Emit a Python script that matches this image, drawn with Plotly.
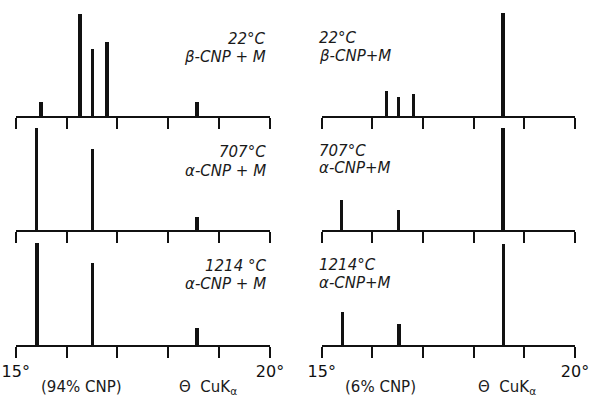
import plotly.graph_objects as go

# Peak positions (theta, degrees) and relative heights
lt_pos = [15.49, 16.26, 16.51, 16.79, 18.56]
lt_int = [14, 102, 67, 74, 14]
lm_pos = [15.40, 16.51, 18.56]
lm_int = [102, 81, 13]
lb_pos = [15.41, 16.51, 18.56]
lb_int = [102, 82, 17]
rt_pos = [16.27, 16.51, 16.81, 18.57]
rt_int = [25, 19, 22, 103]
rm_pos = [15.39, 16.51, 18.57]
rm_int = [30, 20, 102]
rb_pos = [15.40, 16.52, 18.58]
rb_int = [33, 21, 101]

label_vals = [15, 20]
label_text = ["15°", "20°"]

W, H = 592, 399
def px(x):
    return x / W
def py(y):
    return 1 - y / H

panels = [
    (lt_pos, lt_int, (15.7, 270), (6, 116), False),
    (rt_pos, rt_int, (321.7, 575), (6, 116), False),
    (lm_pos, lm_int, (15.7, 270), (120, 230), False),
    (rm_pos, rm_int, (321.7, 575), (120, 230), False),
    (lb_pos, lb_int, (15.7, 270), (235, 345), True),
    (rb_pos, rb_int, (321.7, 575), (235, 345), True),
]

fig = go.Figure()
layout = {}
for i, (pos, inten, (x0, x1), (y0, y1), labels) in enumerate(panels):
    n = i + 1
    xa = "x" if n == 1 else f"x{n}"
    ya = "y" if n == 1 else f"y{n}"
    fig.add_trace(go.Bar(x=pos, y=inten, width=0.065, marker_color="#111111",
                         marker_line_width=0, xaxis=xa, yaxis=ya, showlegend=False))
    xkey = "xaxis" if n == 1 else f"xaxis{n}"
    ykey = "yaxis" if n == 1 else f"yaxis{n}"
    layout[xkey] = dict(domain=[px(x0), px(x1)], range=[15, 20], anchor=ya,
                        automargin=False,
                        showline=True, linecolor="#111111", linewidth=1.8,
                        ticks="outside", ticklen=11, tickwidth=1.6, tickcolor="#111111",
                        tickmode="array", tickvals=label_vals, ticktext=label_text,
                        showticklabels=labels,
                        minor=dict(tick0=15, dtick=1, ticks="outside", ticklen=11,
                                   tickwidth=1.6, tickcolor="#111111", showgrid=False),
                        showgrid=False, zeroline=False,
                        tickfont=dict(family="DejaVu Sans", size=16, color="#111111"),
                        fixedrange=True)
    layout[ykey] = dict(domain=[py(y1), py(y0)], range=[0, 110], anchor=xa,
                        automargin=False,
                        visible=False, showgrid=False, zeroline=False, fixedrange=True)

fig.update_layout(**layout)

txt_font = dict(family="DejaVu Sans", size=15, color="#1a1a1a")
ann = []
def add(text, x, y, xanchor):
    ann.append(dict(text=text, x=px(x), y=py(y), xref="paper", yref="paper",
                    xanchor=xanchor, yanchor="middle", showarrow=False, font=txt_font))

# left column labels (right aligned)
add("<i>22°C</i>", 268, 39, "right")
add("<i>β-CNP + M</i>", 268, 57, "right")
add("<i>707°C</i>", 268, 152, "right")
add("<i>α-CNP + M</i>", 268, 171, "right")
add("<i>1214 °C</i>", 268, 266, "right")
add("<i>α-CNP + M</i>", 268, 284, "right")
# right column labels (left aligned)
add("<i>22°C</i>", 317, 38, "left")
add("<i>β-CNP+M</i>", 317, 56, "left")
add("<i>707°C</i>", 317, 151, "left")
add("<i>α-CNP+M</i>", 317, 168, "left")
add("<i>1214°C</i>", 317, 265, "left")
add("<i>α-CNP+M</i>", 317, 283, "left")
# bottom captions
add("(94% CNP)", 81, 387, "center")
add("Θ  CuK<sub>α</sub>", 208, 387, "center")
add("(6% CNP)", 381, 387, "center")
add("Θ  CuK<sub>α</sub>", 507, 387, "center")

fig.update_layout(annotations=ann, width=W, height=H,
                  margin=dict(l=0, r=0, t=0, b=0),
                  paper_bgcolor="white", plot_bgcolor="white", bargap=0)

fig.write_html("out.html")
